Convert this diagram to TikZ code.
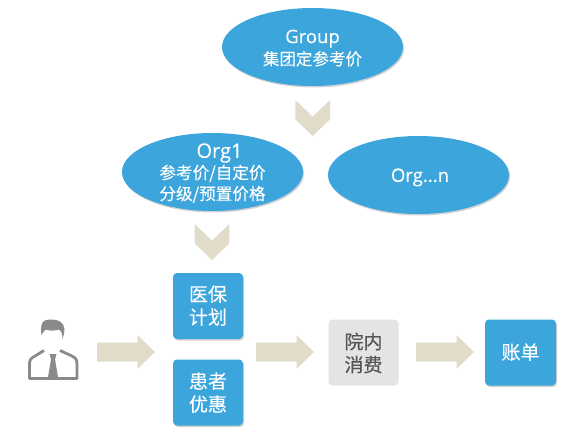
\documentclass[tikz,border=0pt]{standalone}
\usepackage{fontspec}
\setmainfont[FakeBold=0.25]{Noto Sans CJK SC}
\newfontfamily\latinf[FakeBold=0.15]{Open Sans}
\usetikzlibrary{shapes.geometric,shadows}
\definecolor{bluefill}{HTML}{3CA5DB}
\definecolor{tanfill}{HTML}{E1DBCA}
\definecolor{greyfill}{HTML}{E4E4E3}
\definecolor{persongrey}{HTML}{8A8A8A}
\definecolor{greytext}{HTML}{555555}
\newcommand{\lat}[1]{{\latinf\fontsize{18.5}{22}\selectfont #1}}
\newcommand{\tx}[2]{\raisebox{-#1pt}[0pt][0pt]{\begin{tabular}{@{}c@{}}#2\end{tabular}}}
\tikzset{
  softshadow/.style={drop shadow={shadow xshift=1pt,shadow yshift=-1.5pt,opacity=.18,fill=black}},
  oval/.style={ellipse,fill=bluefill,text=white,minimum width=181pt,minimum height=78pt,inner sep=0pt,softshadow},
  boxbase/.style={rectangle,rounded corners=4pt,minimum width=70pt,minimum height=66pt,inner sep=0pt,font=\fontsize{19}{23}\selectfont},
  bluebox/.style={boxbase,fill=bluefill,text=white,softshadow},
  greybox/.style={boxbase,fill=greyfill,text=greytext},
  blockarrow/.style={fill=tanfill,draw=none},
  persongfx/.style={fill=persongrey,draw=none},
  personline/.style={draw=persongrey,line width=2.8pt,line join=round}
}
% right-pointing block arrow with its tail centre at #1
\newcommand{\blockarr}[1]{\fill[blockarrow,shift={(#1)}] (0,-9.5) -- (40.5,-9.5) -- (40.5,-17) -- (58,0) -- (40.5,17) -- (40.5,9.5) -- (0,9.5) -- cycle;}
% downward chevron with its centre at #1
\newcommand{\chevron}[1]{\fill[blockarrow,shift={(#1)}] (-17.3,-18) -- (0,-1.3) -- (17.3,-18) -- (17.3,1.3) -- (0,18) -- (-17.3,1.3) -- cycle;}
\begin{document}
\begin{tikzpicture}[x=1pt,y=-1pt]
\useasboundingbox (0,0) rectangle (575,434);
\node[oval,font=\fontsize{16.5}{22}\selectfont] (group) at (312.5,47) {\tx{7}{\lat{Group}\\集团定参考价}};
\node[oval,font=\fontsize{16.6}{21}\selectfont] (org1) at (212.5,172) {\tx{7}{\hspace*{14pt}{\latinf\fontsize{20}{22}\selectfont Org1}\\参考价/自定价\\分级/预置价格}};
\node[oval,font=\fontsize{16.6}{21}\selectfont] (orgn) at (418.5,175) {\tx{7}{\hspace*{3pt}\lat{Org...n}}};
\node[bluebox] (plan) at (208,306) {\tx{6.5}{医保\\计划}};
\node[bluebox] (promo) at (208,392.5) {\tx{7}{患者\\优惠}};
\node[greybox] (cons) at (363.5,352.5) {\tx{7.5}{院内\\消费}};
\node[bluebox,minimum width=71pt] (bill) at (520.5,352.5) {\tx{6.5}{账单}};
\coordinate (c1) at (312.7,118);
\coordinate (c2) at (212,242);
\coordinate (a1) at (97,352);
\coordinate (a2) at (256,352);
\coordinate (a3) at (416,352);
\chevron{c1}
\chevron{c2}
\blockarr{a1}
\blockarr{a2}
\blockarr{a3}
% person icon
\fill[persongfx] (41.5,335) .. controls (40.5,328) and (41,322) .. (45,320.5)
  .. controls (48,319) and (56,319) .. (60,321.5)
  .. controls (65,324) and (65.5,331) .. (62.5,339)
  .. controls (62.5,333) and (61,330.5) .. (59,329.5)
  .. controls (54,331) and (49,331) .. (46,329.5)
  .. controls (43,331) and (43,333) .. (41.5,335) -- cycle;
\draw[personline] (44,350.5) -- (35,356) .. controls (31,358) and (29.5,360) .. (29.5,364) -- (29.5,378.5) -- (77,378.5) -- (77,364)
  .. controls (77,360) and (76,358) .. (72,356) -- (60,350.5);
\fill[persongfx] (49.5,354) -- (56.5,354) -- (55,359) -- (58,377) -- (48,377) -- (51,359) -- cycle;
\end{tikzpicture}
\end{document}
